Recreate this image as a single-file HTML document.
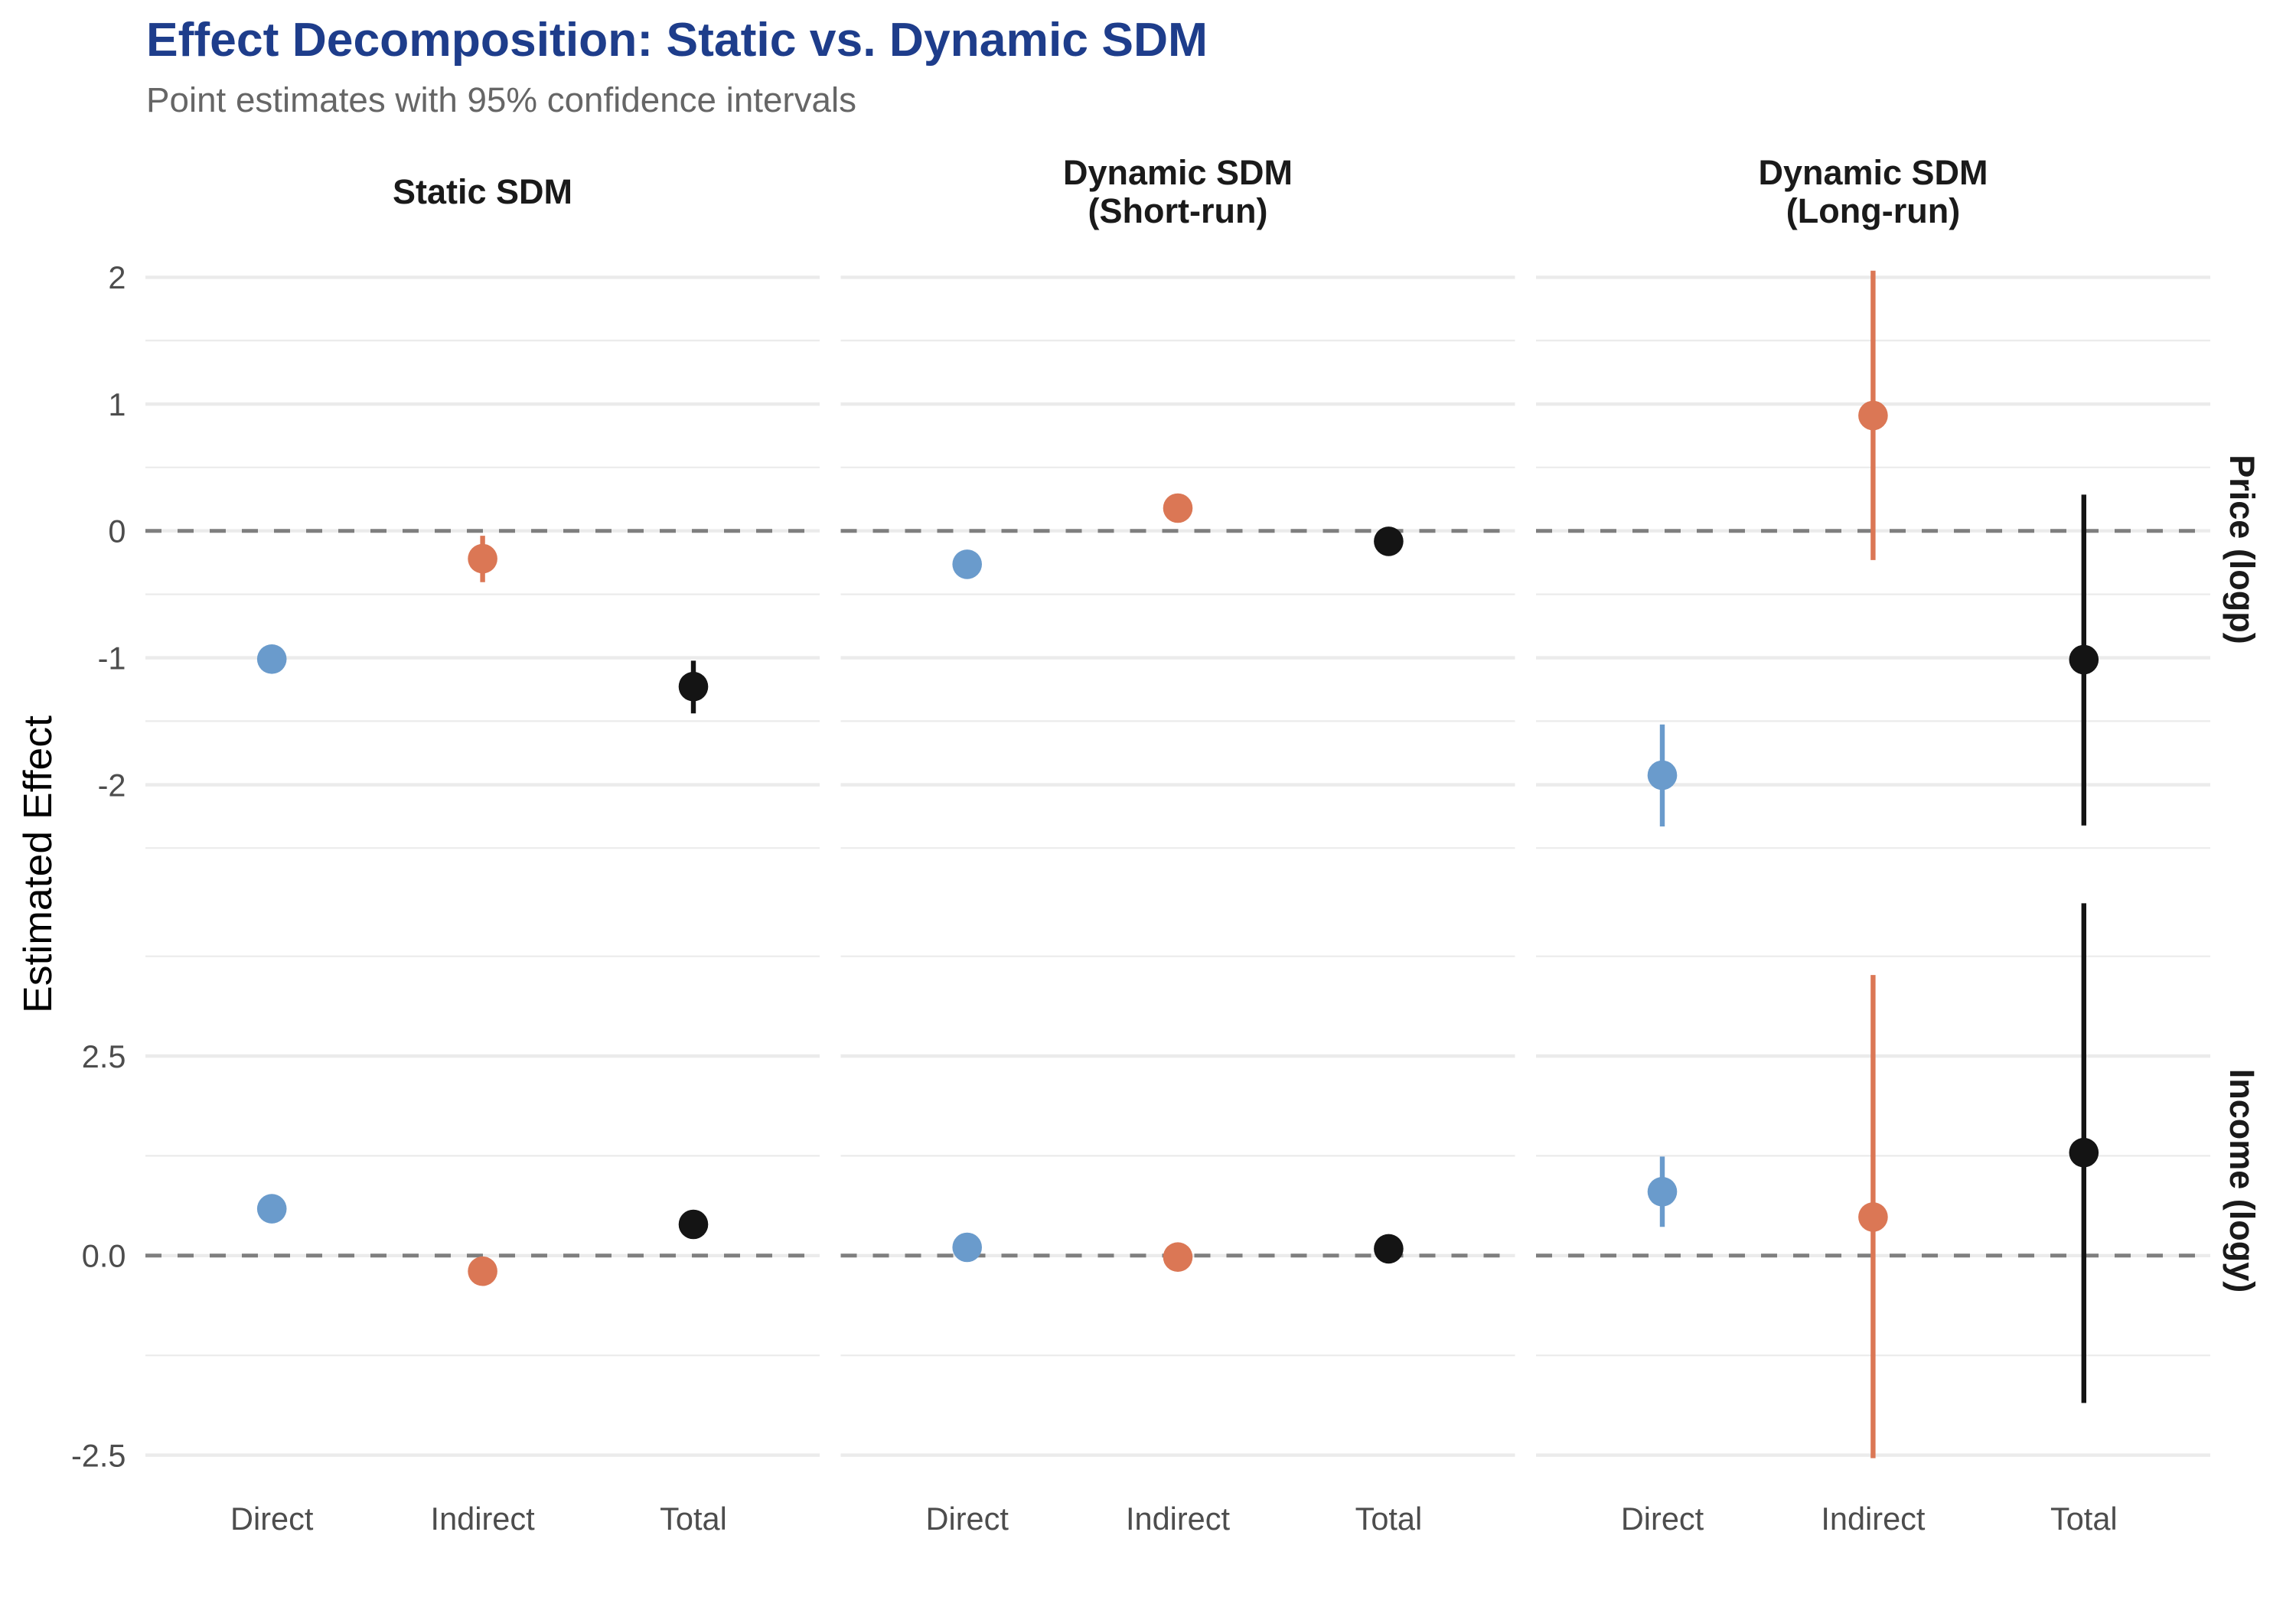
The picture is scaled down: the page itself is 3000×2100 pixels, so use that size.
<!DOCTYPE html>
<html>
<head>
<meta charset="utf-8">
<style>
  html, body { margin: 0; padding: 0; background: #ffffff; }
  svg { display: block; }
  text { font-family: "Liberation Sans", Arial, Helvetica, sans-serif; }
</style>
</head>
<body>
<svg width="3000" height="2100" viewBox="0 0 3000 2100" xmlns="http://www.w3.org/2000/svg">
  <rect x="0" y="0" width="3000" height="2100" fill="#ffffff"/>

  <!-- Title & subtitle -->
  <text x="191" y="73" font-size="62" font-weight="bold" fill="#1E3D8B" textLength="1387" lengthAdjust="spacingAndGlyphs">Effect Decomposition: Static vs. Dynamic SDM</text>
  <text x="191" y="146" font-size="45.5" fill="#666666" textLength="928" lengthAdjust="spacingAndGlyphs">Point estimates with 95% confidence intervals</text>

  <!-- Strip labels (top) -->
  <g font-size="45" font-weight="bold" fill="#1A1A1A" text-anchor="middle">
    <text x="630.5" y="266">Static SDM</text>
    <text x="1539" y="241">Dynamic SDM</text>
    <text x="1539" y="291">(Short-run)</text>
    <text x="2447.5" y="241">Dynamic SDM</text>
    <text x="2447.5" y="291">(Long-run)</text>
  </g>

  <!-- Strip labels (right) -->
  <g font-size="45" font-weight="bold" fill="#1A1A1A" text-anchor="middle">
    <text transform="translate(2914,718) rotate(90)">Price (logp)</text>
    <text transform="translate(2914,1543) rotate(90)">Income (logy)</text>
  </g>

  <!-- Y axis title -->
  <text transform="translate(67,1129.5) rotate(-90)" font-size="52" fill="#000000" text-anchor="middle" textLength="389" lengthAdjust="spacingAndGlyphs">Estimated Effect</text>

  <!-- Y tick labels -->
  <g font-size="41.5" fill="#4D4D4D" text-anchor="end">
    <text x="164.5" y="377.2">2</text>
    <text x="164.5" y="543">1</text>
    <text x="164.5" y="708.6">0</text>
    <text x="164.5" y="874.6">-1</text>
    <text x="164.5" y="1040.6">-2</text>
    <text x="164.5" y="1394.9">2.5</text>
    <text x="164.5" y="1655.7">0.0</text>
    <text x="164.5" y="1916.4">-2.5</text>
  </g>

  <!-- X tick labels -->
  <g font-size="41.5" fill="#4D4D4D" text-anchor="middle">
    <text x="355.2" y="1999">Direct</text>
    <text x="630.6" y="1999">Indirect</text>
    <text x="906" y="1999">Total</text>
    <text x="1263.7" y="1999">Direct</text>
    <text x="1539" y="1999">Indirect</text>
    <text x="1814.4" y="1999">Total</text>
    <text x="2172" y="1999">Direct</text>
    <text x="2447.4" y="1999">Indirect</text>
    <text x="2722.8" y="1999">Total</text>
  </g>

  <!-- Gridlines: defined once per panel column -->
  <defs>
    <g id="grid">
      <g stroke="#EBEBEB" stroke-width="2.2">
        <line x1="0" x2="881" y1="445" y2="445"/>
        <line x1="0" x2="881" y1="610.8" y2="610.8"/>
        <line x1="0" x2="881" y1="776.6" y2="776.6"/>
        <line x1="0" x2="881" y1="942.4" y2="942.4"/>
        <line x1="0" x2="881" y1="1108.2" y2="1108.2"/>
        <line x1="0" x2="881" y1="1249.7" y2="1249.7"/>
        <line x1="0" x2="881" y1="1510.4" y2="1510.4"/>
        <line x1="0" x2="881" y1="1771.2" y2="1771.2"/>
      </g>
      <g stroke="#EBEBEB" stroke-width="4.4">
        <line x1="0" x2="881" y1="362.4" y2="362.4"/>
        <line x1="0" x2="881" y1="528" y2="528"/>
        <line x1="0" x2="881" y1="693.7" y2="693.7"/>
        <line x1="0" x2="881" y1="859.6" y2="859.6"/>
        <line x1="0" x2="881" y1="1025.6" y2="1025.6"/>
        <line x1="0" x2="881" y1="1380" y2="1380"/>
        <line x1="0" x2="881" y1="1640.8" y2="1640.8"/>
        <line x1="0" x2="881" y1="1901.6" y2="1901.6"/>
      </g>
      <g stroke="#7F7F7F" stroke-width="5" stroke-dasharray="21 21">
        <line x1="0" x2="881" y1="693.7" y2="693.7"/>
        <line x1="0" x2="881" y1="1640.8" y2="1640.8"/>
      </g>
    </g>
  </defs>
  <use href="#grid" x="190" y="0"/>
  <use href="#grid" x="1098.5" y="0"/>
  <use href="#grid" x="2007" y="0"/>

  <!-- Error bars -->
  <g stroke-width="6.4" stroke-linecap="butt">
    <line x1="630.6" x2="630.6" y1="700.1" y2="760.7" stroke="#DB7755"/>
    <line x1="906" x2="906" y1="863.4" y2="932.3" stroke="#141414"/>
    <line x1="2172" x2="2172" y1="946.8" y2="1080" stroke="#6A9BCC"/>
    <line x1="2447.4" x2="2447.4" y1="353.7" y2="731.9" stroke="#DB7755"/>
    <line x1="2722.8" x2="2722.8" y1="646.4" y2="1078.8" stroke="#141414"/>
    <line x1="2172" x2="2172" y1="1511.4" y2="1603.2" stroke="#6A9BCC"/>
    <line x1="2447.4" x2="2447.4" y1="1274.1" y2="1905.5" stroke="#DB7755"/>
    <line x1="2722.8" x2="2722.8" y1="1180.4" y2="1833.4" stroke="#141414"/>
  </g>

  <!-- Points -->
  <g>
    <circle cx="355.2" cy="861.3" r="19.3" fill="#6A9BCC"/>
    <circle cx="630.6" cy="730.1" r="19.3" fill="#DB7755"/>
    <circle cx="906" cy="897.2" r="19.3" fill="#141414"/>
    <circle cx="1263.7" cy="737.4" r="19.3" fill="#6A9BCC"/>
    <circle cx="1539" cy="664" r="19.3" fill="#DB7755"/>
    <circle cx="1814.4" cy="707.4" r="19.3" fill="#141414"/>
    <circle cx="2172" cy="1013" r="19.3" fill="#6A9BCC"/>
    <circle cx="2447.4" cy="543" r="19.3" fill="#DB7755"/>
    <circle cx="2722.8" cy="862" r="19.3" fill="#141414"/>
    <circle cx="355.2" cy="1579.6" r="19.3" fill="#6A9BCC"/>
    <circle cx="630.6" cy="1661.2" r="19.3" fill="#DB7755"/>
    <circle cx="906" cy="1600" r="19.3" fill="#141414"/>
    <circle cx="1263.7" cy="1630" r="19.3" fill="#6A9BCC"/>
    <circle cx="1539" cy="1642.7" r="19.3" fill="#DB7755"/>
    <circle cx="1814.4" cy="1631.9" r="19.3" fill="#141414"/>
    <circle cx="2172" cy="1557.3" r="19.3" fill="#6A9BCC"/>
    <circle cx="2447.4" cy="1590.4" r="19.3" fill="#DB7755"/>
    <circle cx="2722.8" cy="1506.2" r="19.3" fill="#141414"/>
  </g>
</svg>
</body>
</html>
